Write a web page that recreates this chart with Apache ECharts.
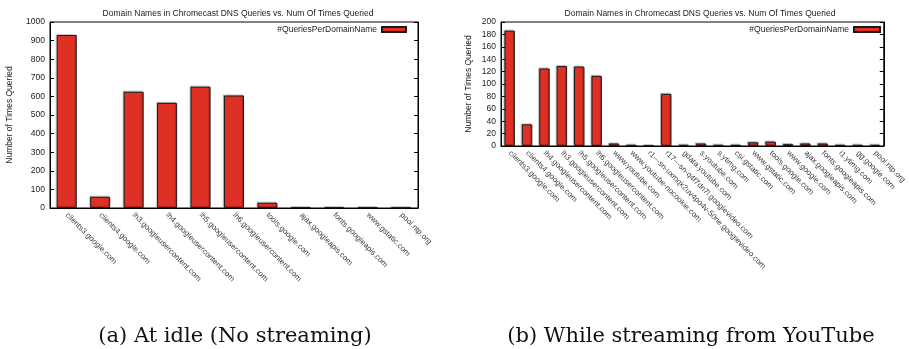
<!DOCTYPE html>
<html>
<head>
<meta charset="utf-8">
<script src="https://cdn.jsdelivr.net/npm/echarts@6/dist/echarts.min.js"></script>
<style>
  html, body { margin: 0; padding: 0; background: #fff; }
  #main { width: 909px; height: 349px; }
</style>
</head>
<body>
<div id="main"></div>
<script>
// (a) idle, no streaming
const idleDomains = ['clients3.google.com', 'clients4.google.com', 'lh3.googleusercontent.com',
  'lh4.googleusercontent.com', 'lh5.googleusercontent.com', 'lh6.googleusercontent.com',
  'tools.google.com', 'ajax.googleapis.com', 'fonts.googleapis.com', 'www.gstatic.com', 'pool.ntp.org'];
const idleCounts = [930, 60, 625, 565, 652, 605, 28, 5, 5, 5, 3];

// (b) streaming from youtube
const streamDomains = ['clients3.google.com', 'clients4.google.com', 'lh4.googleusercontent.com',
  'lh3.googleusercontent.com', 'lh5.googleusercontent.com', 'lh6.googleusercontent.com',
  'www.youtube.com', 'www.youtube-nocookie.com', 'r1---sn-uxmqk2uv4po4v-50ne.googlevideo.com',
  'r17---sn-q4f7dn7l.googlevideo.com', 'gdata.youtube.com', 's.youtube.com', 's.ytimg.com',
  'csi.gstatic.com', 'www.gstatic.com', 'tools.google.com', 'www.google.com', 'ajax.googleapis.com',
  'fonts.googleapis.com', 'i1.ytimg.com', 'gg.google.com', 'pool.ntp.org'];
const streamCounts = [186, 35, 125, 129, 128, 113, 4, 2, 1, 84, 2, 4, 2, 2, 6, 7, 3, 4, 4, 2, 2, 2];

const chartTitle = 'Domain Names in Chromecast DNS Queries vs. Num Of Times Queried';
const seriesName = '#QueriesPerDomainName';
const captions = ['(a) At idle (No streaming)', '(b) While streaming from YouTube'];

const FONT = 'Liberation Sans';
const barColor = '#de3024';

const chart = echarts.init(document.getElementById('main'), null, { renderer: 'canvas' });

function yAxes(gridIndex, max, interval, nameGap) {
  const base = {
    gridIndex: gridIndex,
    type: 'value',
    min: 0,
    max: max,
    interval: interval,
    splitLine: { show: false },
    axisLine: { show: true, lineStyle: { color: '#000', width: 1 } },
    axisTick: { show: true, inside: true, length: 4, lineStyle: { color: '#000' } }
  };
  return [
    Object.assign({}, base, {
      position: 'left',
      name: 'Number of Times Queried',
      nameLocation: 'middle',
      nameGap: nameGap,
      nameTextStyle: { fontFamily: FONT, fontSize: 8.5, color: '#222' },
      axisLabel: { fontFamily: FONT, fontSize: 8.5, color: '#222', margin: 5,
        formatter: (v) => String(v) }
    }),
    Object.assign({}, base, {
      position: 'right',
      axisLabel: { show: false }
    })
  ];
}

function xAxis(gridIndex, cats) {
  return {
    gridIndex: gridIndex,
    type: 'category',
    data: cats,
    axisLine: { show: true, lineStyle: { color: '#000', width: 1 } },
    axisTick: { show: false },
    axisLabel: {
      interval: 0,
      rotate: -45,
      fontFamily: FONT,
      fontSize: 7.8,
      color: '#3a3a3a',
      margin: 6
    }
  };
}

function barSeries(xi, yi, values) {
  return {
    name: seriesName,
    type: 'bar',
    xAxisIndex: xi,
    yAxisIndex: yi,
    data: values,
    barWidth: '60%',
    itemStyle: {
      color: barColor,
      borderColor: '#1a1a1a',
      borderWidth: 1,
      shadowColor: 'rgba(0,0,0,0.25)',
      shadowBlur: 1,
      shadowOffsetX: -1,
      shadowOffsetY: -1
    }
  };
}

const captionStyle = { fontFamily: 'DejaVu Serif', fontSize: 21, fontWeight: 'normal', color: '#111' };

const option = {
  backgroundColor: '#fff',
  animation: false,
  title: [
    { text: chartTitle, left: 233, top: 4, textAlign: 'center',
      textStyle: { fontFamily: FONT, fontSize: 8.5, fontWeight: 'normal', color: '#222' } },
    { text: chartTitle, left: 695, top: 4, textAlign: 'center',
      textStyle: { fontFamily: FONT, fontSize: 8.5, fontWeight: 'normal', color: '#222' } },
    { text: captions[0], left: 230, top: 321, textAlign: 'center', textStyle: captionStyle },
    { text: captions[1], left: 686, top: 321, textAlign: 'center', textStyle: captionStyle }
  ],
  legend: [
    { right: 502, top: 25, padding: 0, align: 'right', icon: 'rect', itemWidth: 24, itemHeight: 5,
      itemGap: 0, data: [seriesName],
      textStyle: { fontFamily: FONT, fontSize: 8.5, color: '#222' } },
    { right: 28, top: 25, padding: 0, align: 'right', icon: 'rect', itemWidth: 26, itemHeight: 5,
      itemGap: 0, data: [seriesName],
      textStyle: { fontFamily: FONT, fontSize: 8.5, color: '#222' } }
  ],
  grid: [
    { left: 50, top: 22, width: 368, height: 186, show: true, borderColor: '#000', borderWidth: 1,
      backgroundColor: 'transparent' },
    { left: 501, top: 22, width: 389, height: 124, show: true, borderColor: '#000', borderWidth: 1,
      backgroundColor: 'transparent' }
  ],
  xAxis: [xAxis(0, idleDomains), xAxis(1, streamDomains)],
  yAxis: [].concat(yAxes(0, 1000, 100, 36), yAxes(1, 200, 20, 28)),
  series: [
    barSeries(0, 0, idleCounts),
    barSeries(1, 2, streamCounts)
  ]
};

chart.setOption(option);
</script>
</body>
</html>
